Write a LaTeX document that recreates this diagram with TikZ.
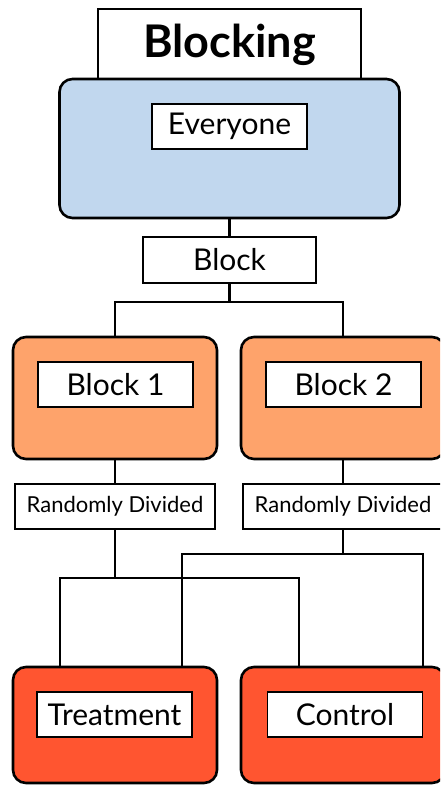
\documentclass[tikz,border=0pt]{standalone}
\usepackage{fontspec}
\setmainfont{Lato}
\usetikzlibrary{calc}

\definecolor{everyblue}{RGB}{193,215,238}
\definecolor{blockorange}{RGB}{254,163,107}
\definecolor{groupred}{RGB}{255,85,48}

\tikzset{
    groupbox/.style={draw=black, line width=2.6pt, rounded corners=13pt, minimum width=204pt, inner sep=0pt},
    labelbox/.style={draw=black, fill=white, line width=1.6pt, minimum height=45pt, inner sep=0pt, font=\fontsize{30}{34}\selectfont},
    divbox/.style={labelbox, minimum width=200pt, font=\fontsize{22}{26}\selectfont},
    link/.style={line width=2.6pt}
}

\begin{document}
\begin{tikzpicture}[x=1pt, y=-1pt]
    % Page is 440 x 786, y runs downwards
    \useasboundingbox (0,0) rectangle (440,786);
    \clip (0,0) rectangle (440,786);

    % Title box, partly hidden behind the blue box
    \node[draw=black, line width=1.6pt, minimum width=263pt, minimum height=72pt, inner sep=0pt,
          font=\fontsize{45}{50}\selectfont\bfseries] (title) at (229.5,45) {Blocking};

    % Everyone
    \node[groupbox, fill=everyblue, minimum width=340pt, minimum height=139pt] (everyone) at (229.5,148.5) {};
    \node[labelbox, minimum width=155pt] (everyonelbl) at (229.5,126.5) {Everyone};

    % Block
    \node[labelbox, minimum width=173pt, minimum height=46pt] (block) at (229.5,260) {Block};

    % The two blocks
    \foreach \n/\x in {1/115, 2/343}{
        \node[groupbox, fill=blockorange, minimum height=122pt] (blk\n) at (\x,398) {};
        \node[labelbox, minimum width=155pt] (blk\n lbl) at (\x+0.5,384.5) {Block \n};
        \node[divbox] (div\n) at (\x,506.5) {Randomly Divided};
    }

    % Treatment and control
    \node[groupbox, fill=groupred, minimum height=116pt] (treat) at (115,725) {};
    \node[labelbox, minimum width=155pt] (treatlbl) at (114.5,714.5) {Treatment};
    \node[groupbox, fill=groupred, minimum height=116pt] (ctrl) at (343,725) {};
    \node[labelbox, minimum width=155pt] (ctrllbl) at (345,714.5) {Control};

    % Feet of the lines on top of treatment and control
    \coordinate (treatA) at ($(treat.north)+(-55,0)$);
    \coordinate (treatB) at ($(treat.north)+(67,0)$);
    \coordinate (ctrlA) at ($(ctrl.north)+(-44,0)$);
    \coordinate (ctrlB) at ($(ctrl.north)+(80,0)$);

    % Connectors
    \draw[link] (everyone.south) -- (block.north);
    \draw[link] (block.south) -- ++(0,18) -| (blk1.north);
    \draw[link] (block.south) -- ++(0,18) -| (blk2.north);
    \foreach \n in {1,2}
        \draw[link] (blk\n.south) -- (div\n.north);
    \draw[link] (div1.south) -- ++(0,48) -| (treatA);
    \draw[link] (div1.south) -- ++(0,48) -| (ctrlA);
    \draw[link] (div2.south) -- ++(0,24) -| (treatB);
    \draw[link] (div2.south) -- ++(0,24) -| (ctrlB);
\end{tikzpicture}
\end{document}
